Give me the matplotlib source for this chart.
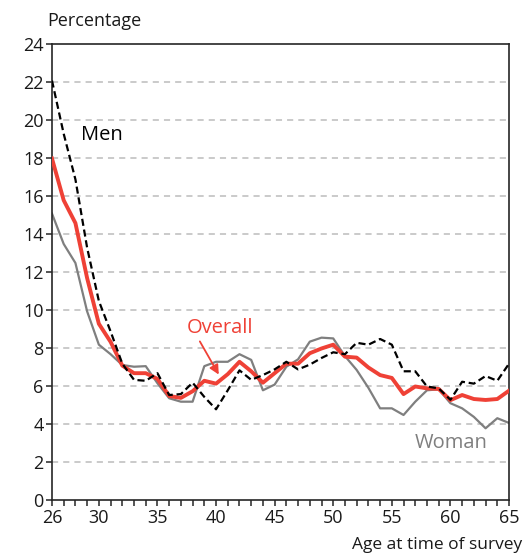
import numpy as np
import matplotlib
matplotlib.use("Agg")
import matplotlib.pyplot as plt

plt.rcParams['font.family'] = ['Open Sans', 'DejaVu Sans']

ages = list(range(26, 66))

men = [22.1, 19.3, 16.9, 13.3, 10.5, 8.9, 7.2, 6.35, 6.3, 6.7,
       5.55, 5.6, 6.2, 5.45, 4.8, 5.8, 6.85, 6.35, 6.6, 6.9,
       7.3, 6.9, 7.15, 7.5, 7.8, 7.7, 8.3, 8.2, 8.5, 8.2,
       6.8, 6.8, 6.0, 5.9, 5.3, 6.25, 6.15, 6.55, 6.3, 7.2]

overall = [18.0, 15.8, 14.6, 11.7, 9.3, 8.35, 7.1, 6.7, 6.7, 6.4,
           5.5, 5.4, 5.75, 6.3, 6.15, 6.65, 7.3, 6.8, 6.2, 6.7,
           7.2, 7.2, 7.75, 8.0, 8.2, 7.57, 7.52, 7.0, 6.6, 6.45,
           5.6, 6.0, 5.9, 5.87, 5.28, 5.55, 5.34, 5.29, 5.34, 5.78]

woman = [15.1, 13.5, 12.5, 9.95, 8.2, 7.7, 7.13, 7.04, 7.07, 6.17,
         5.38, 5.2, 5.2, 7.07, 7.3, 7.3, 7.7, 7.4, 5.8, 6.1,
         7.04, 7.43, 8.36, 8.57, 8.53, 7.6, 6.87, 5.93, 4.85, 4.85,
         4.5, 5.2, 5.8, 5.85, 5.12, 4.85, 4.4, 3.8, 4.33, 4.08]

x_labels = [26, 30, 35, 40, 45, 50, 55, 60, 65]
y_ticks = list(range(0, 25, 2))

red = "#EF4136"
grey = "#7F7F7F"

fig = plt.figure(figsize=(5.24, 5.54), dpi=100)
ax = fig.add_axes([0.0992, 0.0966, 0.8722, 0.8231])

# grid behind everything
for y in y_ticks[1:-1]:
    ax.axhline(y, color="#C6C6C6", lw=1.3, dashes=(3.4, 2.8), zorder=0)

ax.plot(ages, woman, color=grey, lw=1.6, zorder=2)
ax.plot(ages, overall, color=red, lw=2.8, zorder=3)
ax.plot(ages, men, color="black", lw=1.6, dashes=(3.2, 1.7), zorder=4)

ax.set_xlim(26, 65)
ax.set_ylim(0, 24)
ax.set_xticks(ages)
ax.set_xticklabels([str(a) if a in x_labels else "" for a in ages])
ax.set_yticks(y_ticks)
ax.tick_params(axis="both", direction="out", length=4, width=1.1,
               color="#262626", labelsize=13, labelcolor="#1a1a1a", pad=2)
for s in ax.spines.values():
    s.set_color("#262626")
    s.set_linewidth(1.2)

ax.text(30.27, 19.25, "Men", fontsize=14.5, color="black", ha="center", va="center")
ax.text(40.3, 9.1, "Overall", fontsize=14.5, color=red, ha="center", va="center")
ax.annotate("", xy=(40.35, 6.5), xytext=(38.5, 8.5),
            arrowprops=dict(arrowstyle="-|>", color=red, lw=1.3, mutation_scale=14))
ax.text(60.1, 3.05, "Woman", fontsize=14.5, color=grey, ha="center", va="center")

fig.text(0.09, 0.962, "Percentage", fontsize=13, color="#1a1a1a", ha="left", va="center")
fig.text(0.997, 0.016, "Age at time of survey", fontsize=12.5, color="#1a1a1a",
         ha="right", va="center")

fig.savefig("out.png", dpi=100)
